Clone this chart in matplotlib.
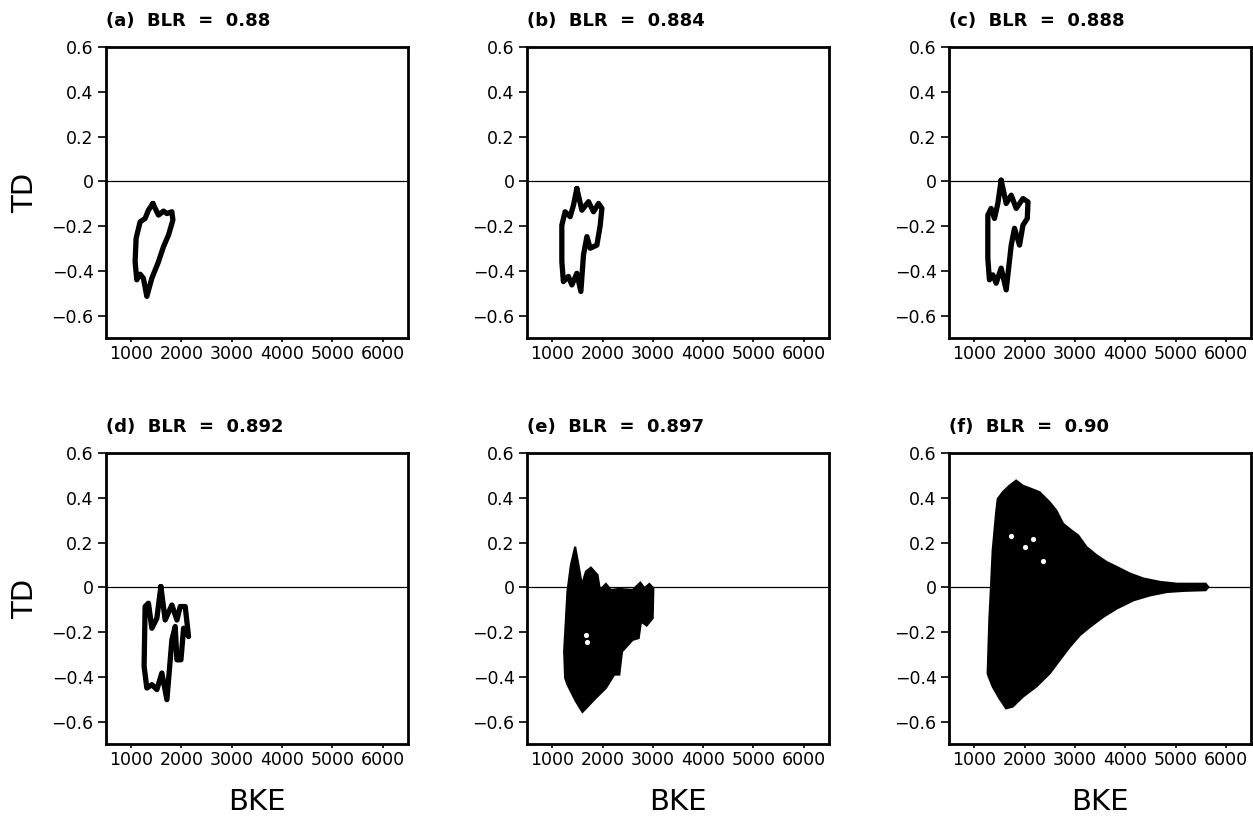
import matplotlib
matplotlib.use('Agg')
import matplotlib.pyplot as plt
from matplotlib.ticker import FixedLocator, FixedFormatter

# Closed BKE-TD trajectories for the periodic runs
bke_a = [1431, 1543, 1642, 1710, 1809, 1829, 1742, 1642, 1543, 1411, 1311, 1243, 1178, 1112, 1078, 1098, 1178, 1277, 1343, 1431]
td_a = [-0.099, -0.151, -0.133, -0.144, -0.136, -0.173, -0.240, -0.292, -0.359, -0.433, -0.514, -0.433, -0.415, -0.440, -0.359, -0.255, -0.181, -0.166, -0.129, -0.099]

bke_b = [1490, 1590, 1722, 1821, 1921, 1988, 1955, 1888, 1756, 1690, 1622, 1570, 1490, 1391, 1323, 1223, 1192, 1192, 1257, 1357, 1423, 1490]
td_b = [-0.032, -0.129, -0.091, -0.136, -0.099, -0.121, -0.196, -0.285, -0.299, -0.247, -0.329, -0.492, -0.411, -0.463, -0.425, -0.448, -0.359, -0.196, -0.136, -0.158, -0.107, -0.032]

bke_c = [1536, 1636, 1736, 1835, 1969, 2069, 2055, 1969, 1901, 1801, 1736, 1636, 1536, 1437, 1371, 1303, 1271, 1271, 1337, 1403, 1470, 1536]
td_c = [0.005, -0.099, -0.062, -0.121, -0.077, -0.092, -0.166, -0.196, -0.285, -0.210, -0.285, -0.485, -0.388, -0.455, -0.418, -0.440, -0.344, -0.151, -0.121, -0.166, -0.099, 0.005]

bke_d = [1590, 1676, 1809, 1909, 1975, 2074, 2140, 2041, 1989, 1909, 1875, 1809, 1710, 1610, 1511, 1411, 1311, 1257, 1277, 1343, 1411, 1511, 1590]
td_d = [0.003, -0.146, -0.079, -0.146, -0.086, -0.086, -0.220, -0.183, -0.324, -0.324, -0.175, -0.235, -0.502, -0.383, -0.457, -0.435, -0.450, -0.353, -0.086, -0.071, -0.183, -0.138, 0.003]

# Outline of the dense point cloud for the chaotic runs
bke_e = [1237, 1303, 1371, 1457, 1523, 1590, 1670, 1769, 1901, 1949, 2068, 2168, 2334, 2599, 2752, 2832, 2931, 3011,
         2997, 2878, 2766, 2719, 2599, 2388, 2334, 2234, 2068, 1869, 1602, 1470, 1303, 1257]
td_e = [-0.287, -0.019, 0.099, 0.181, 0.099, 0.010, 0.070, 0.088, 0.055, -0.012, 0.015, -0.012, -0.007, -0.012, 0.021, -0.004, 0.015, -0.004,
        -0.138, -0.171, -0.153, -0.227, -0.235, -0.287, -0.390, -0.390, -0.450, -0.494, -0.557, -0.509, -0.435, -0.405]

bke_f = [1267, 1300, 1333, 1367, 1433, 1467, 1567, 1700, 1833, 1967, 2133, 2300, 2500, 2633, 2767, 2933, 3067, 3233, 3433, 3633,
         3833, 4100, 4367, 4700, 5033, 5367, 5600, 5653, 5600, 5167, 4833, 4500, 4167, 3833, 3567, 3300, 3100, 2900, 2700, 2500,
         2233, 1967, 1767, 1633, 1500, 1367, 1287]
td_f = [-0.385, -0.147, 0.001, 0.165, 0.328, 0.395, 0.425, 0.454, 0.477, 0.454, 0.440, 0.425, 0.380, 0.343, 0.284, 0.254, 0.232, 0.180, 0.143, 0.113,
        0.091, 0.061, 0.039, 0.024, 0.016, 0.016, 0.016, 0.001, -0.013, -0.016, -0.021, -0.036, -0.058, -0.095, -0.132, -0.177, -0.214, -0.266, -0.325, -0.385,
        -0.444, -0.489, -0.533, -0.541, -0.496, -0.444, -0.399]

# gaps left inside the clouds
gap_bke_e = [1680, 1695]
gap_td_e = [-0.215, -0.245]
gap_bke_f = [1733, 2000, 2167, 2367]
gap_td_f = [0.231, 0.180, 0.217, 0.119]

blr = ['0.88', '0.884', '0.888', '0.892', '0.897', '0.90']
letters = ['a', 'b', 'c', 'd', 'e', 'f']

x_ticks = [1000, 2000, 3000, 4000, 5000, 6000]
y_ticks = [-0.6, -0.4, -0.2, 0, 0.2, 0.4, 0.6]
y_labels = ['\u22120.6', '\u22120.4', '\u22120.2', '0', '0.2', '0.4', '0.6']

fig = plt.figure(figsize=(12.53, 8.18), dpi=100)

lefts = [0.0846, 0.4206, 0.7574]
bottoms = [0.5868, 0.0905]
w, h = 0.241, 0.3557

axes = []
for r in range(2):
    for c in range(3):
        ax = fig.add_axes([lefts[c], bottoms[r], w, h])
        axes.append(ax)

loops = [(bke_a, td_a), (bke_b, td_b), (bke_c, td_c), (bke_d, td_d)]
clouds = [(bke_e, td_e), (bke_f, td_f)]
gaps = [(gap_bke_e, gap_td_e), (gap_bke_f, gap_td_f)]

for i, ax in enumerate(axes):
    ax.set_xlim(500, 6500)
    ax.set_ylim(-0.7, 0.6)
    ax.axhline(0, color='black', lw=0.9, zorder=1)
    if i < 4:
        x, y = loops[i]
        ax.plot(x, y, color='black', lw=3.8, solid_joinstyle='round', solid_capstyle='round', zorder=3)
    else:
        x, y = clouds[i - 4]
        ax.fill(x, y, color='black', lw=1.5, zorder=3)
        gx, gy = gaps[i - 4]
        ax.scatter(gx, gy, s=14, color='white', lw=0, zorder=4)

    ax.xaxis.set_major_locator(FixedLocator(x_ticks))
    ax.yaxis.set_major_locator(FixedLocator(y_ticks))
    ax.yaxis.set_major_formatter(FixedFormatter(y_labels))
    ax.tick_params(axis='y', direction='out', length=6, width=1.2, pad=3, labelsize=12.5)
    ax.tick_params(axis='x', direction='out', length=3, width=1.2, pad=2, labelsize=12.5)
    for s in ax.spines.values():
        s.set_linewidth(2)

    ax.text(0, 1.072, '(%s)  BLR  =  %s' % (letters[i], blr[i]), transform=ax.transAxes,
            ha='left', va='baseline', fontsize=13, fontweight='bold')

    if i % 3 == 0:
        ax.set_ylabel('TD', fontsize=21, va='center')
        ax.yaxis.set_label_coords(-0.268, 0.5)
    if i >= 3:
        ax.set_xlabel('BKE', fontsize=21, va='center')
        ax.xaxis.set_label_coords(0.5, -0.2)

fig.savefig('out.png', dpi=100)
